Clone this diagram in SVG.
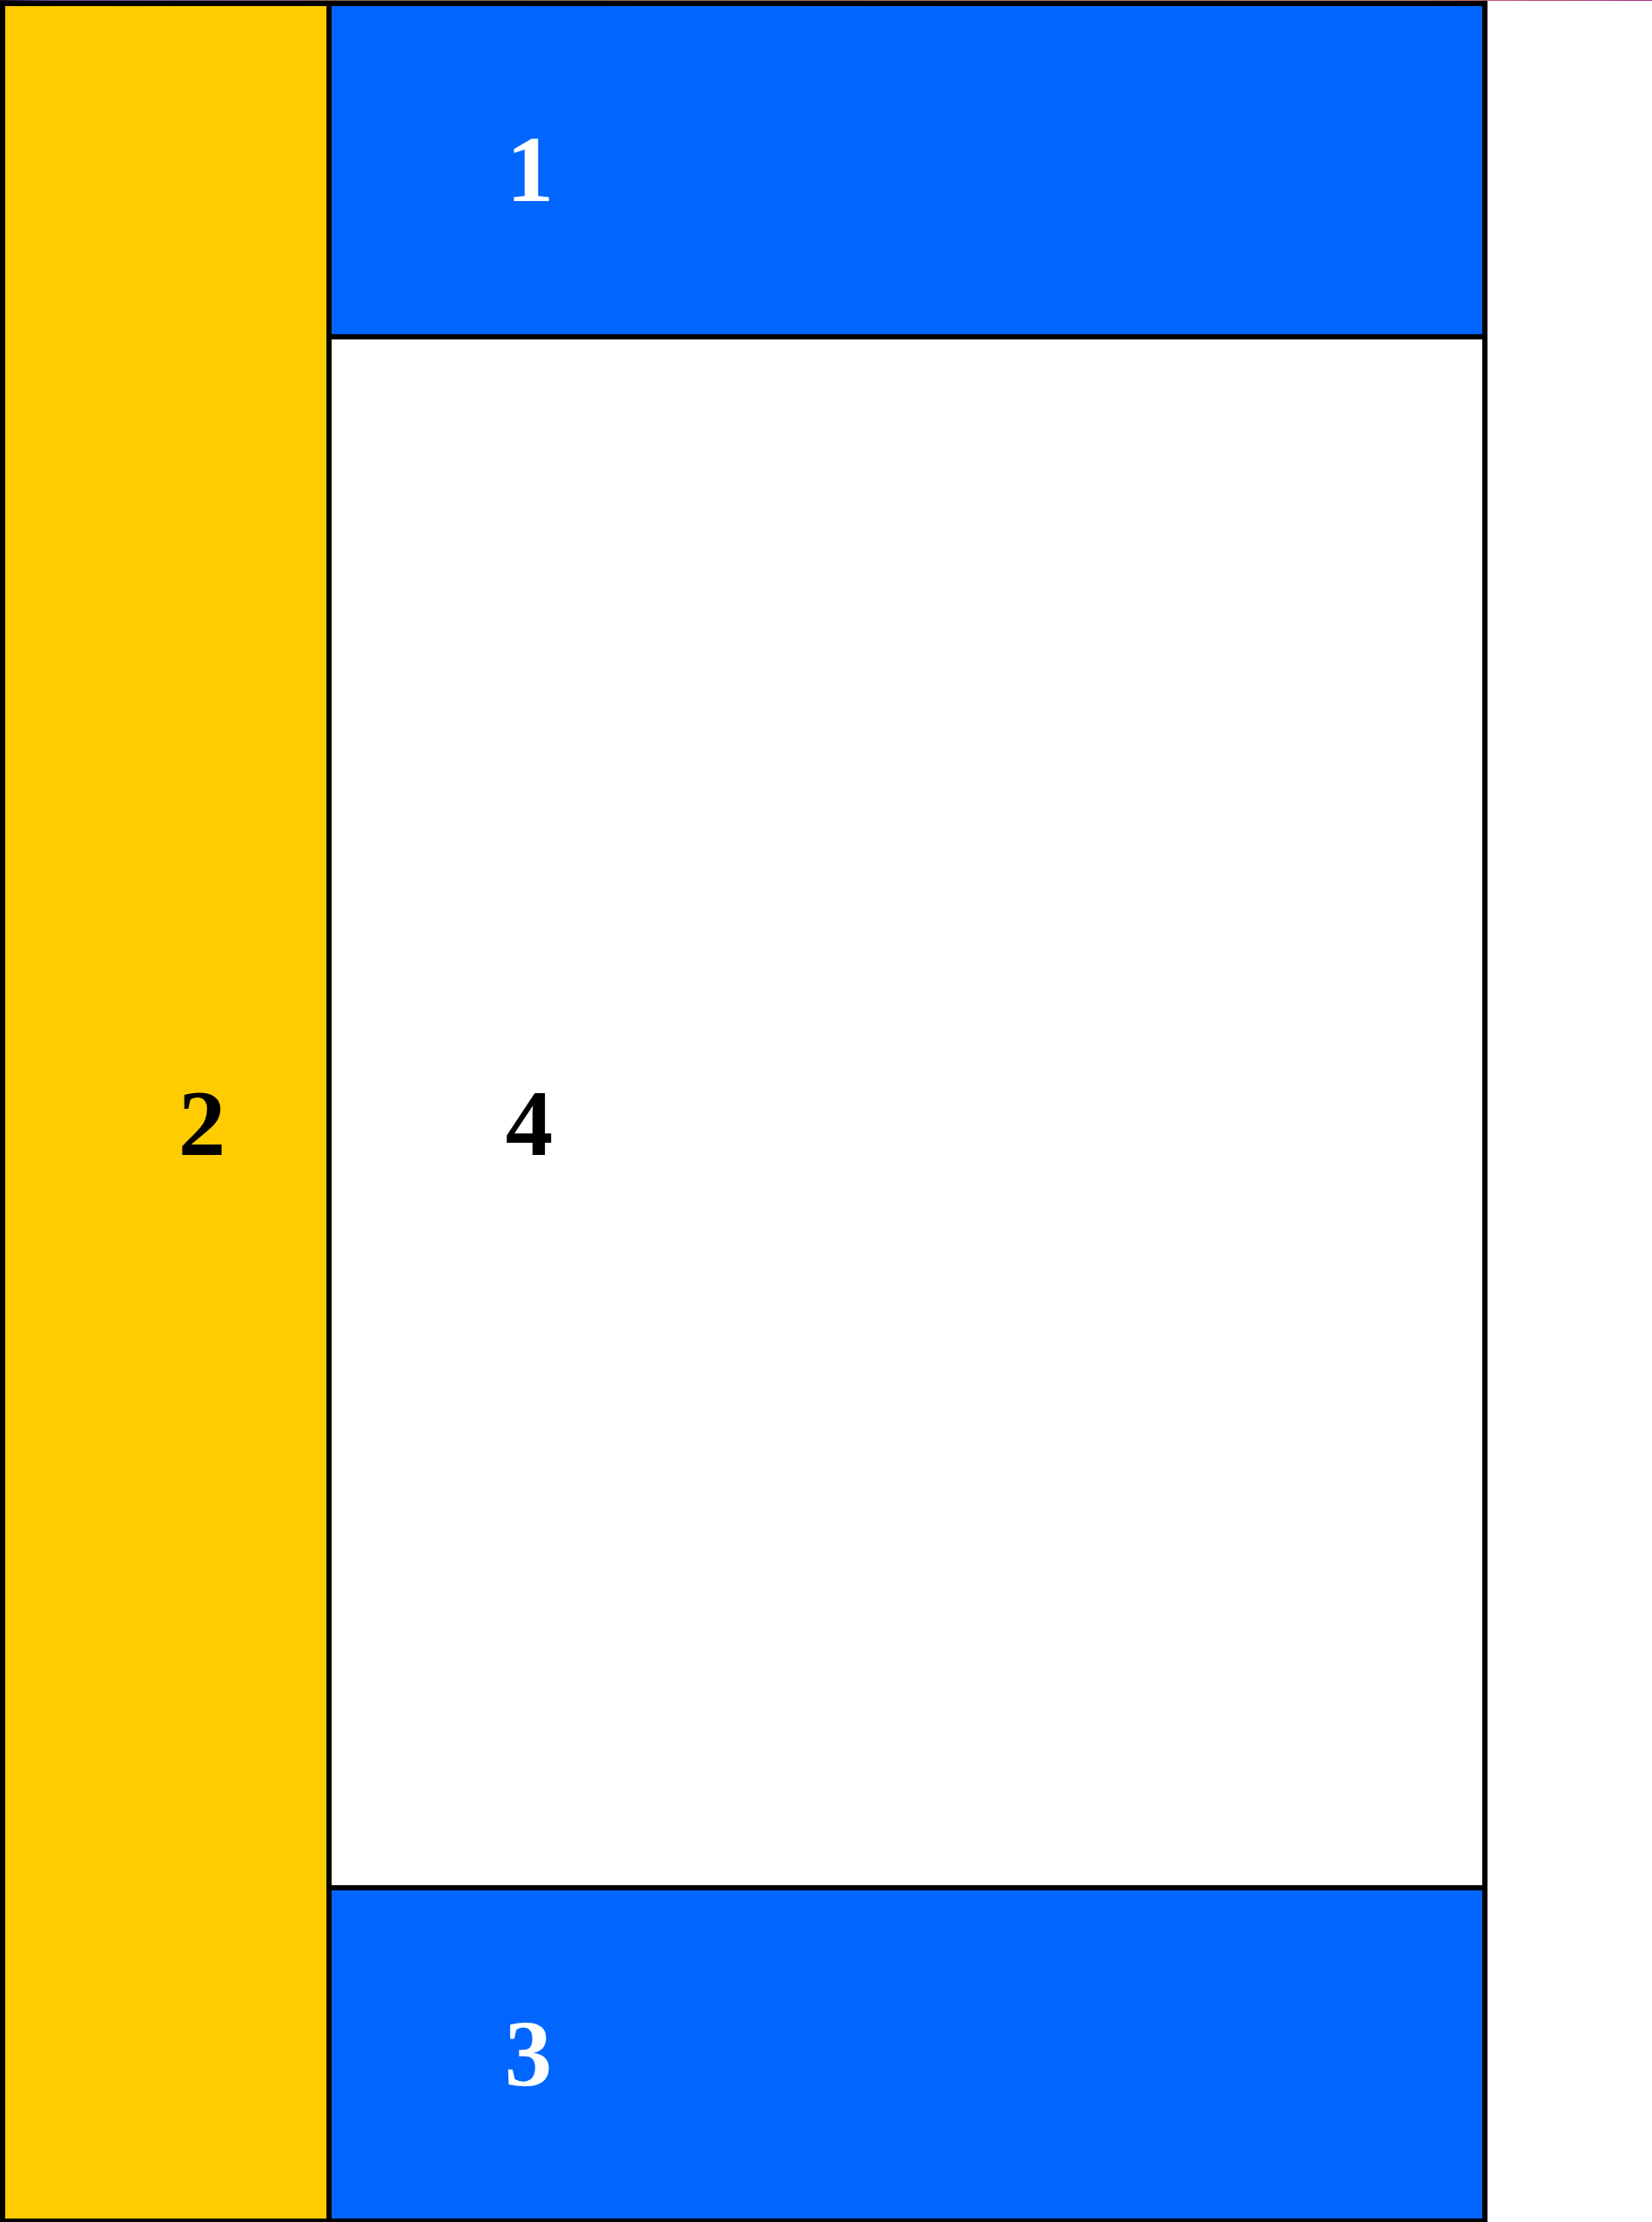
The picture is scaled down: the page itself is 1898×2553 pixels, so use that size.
<svg xmlns="http://www.w3.org/2000/svg" width="1898" height="2553" viewBox="0 0 1898 2553">
  <defs>
    <linearGradient id="topline" x1="0" y1="0" x2="1898" y2="0" gradientUnits="userSpaceOnUse">
      <stop offset="0" stop-color="#1a1020"/>
      <stop offset="0.03" stop-color="#6a4a9a"/>
      <stop offset="0.2" stop-color="#8a6050"/>
      <stop offset="0.85" stop-color="#b88070"/>
      <stop offset="0.93" stop-color="#c04a70"/>
      <stop offset="1" stop-color="#a83090"/>
    </linearGradient>
  </defs>
  <style>
    .box { stroke: #000000; stroke-width: 6px; }
    .blue { fill: #0066ff; }
    .yellow { fill: #ffcc00; }
    .white { fill: #ffffff; }
    .lbl { font-family: "Liberation Serif", "Times New Roman", serif; font-weight: bold; font-size: 109px; text-anchor: middle; }
  </style>
  <rect x="0" y="0" width="1898" height="2553" fill="#ffffff"/>
  <rect x="0" y="0" width="1898" height="1" fill="url(#topline)"/>
  <g id="node-2">
    <rect class="box yellow" x="3" y="4" width="375" height="2548"/>
    <text class="lbl" x="232" y="1327" fill="#000000">2</text>
  </g>
  <g id="node-1">
    <rect class="box blue" x="378" y="4" width="1328" height="383"/>
    <text class="lbl" x="609" y="231" fill="#ffffff">1</text>
  </g>
  <g id="node-4">
    <rect class="box white" x="378" y="387" width="1328" height="1782"/>
    <text class="lbl" x="608" y="1327" fill="#000000">4</text>
  </g>
  <g id="node-3">
    <rect class="box blue" x="378" y="2169" width="1328" height="383"/>
    <text class="lbl" x="607" y="2396" fill="#ffffff">3</text>
  </g>
  <g id="connectors"/>
</svg>
